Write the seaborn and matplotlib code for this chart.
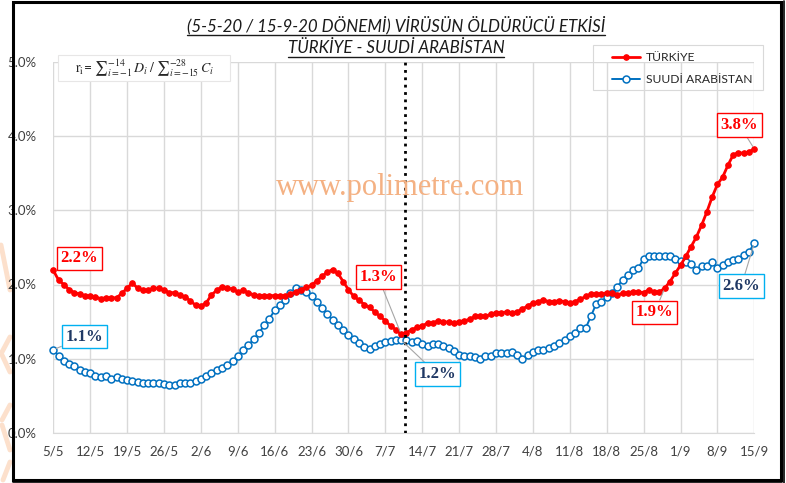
import numpy as np
import pandas as pd
import matplotlib
matplotlib.use('Agg')
import matplotlib.pyplot as plt
import seaborn as sns
from matplotlib.lines import Line2D
from matplotlib.patches import Rectangle

# Veriler (5/5/2020 - 15/9/2020, günlük, %)
tarih_etiketleri = ['5/5', '12/5', '19/5', '26/5', '2/6', '9/6', '16/6', '23/6', '30/6', '7/7',
                    '14/7', '21/7', '28/7', '4/8', '11/8', '18/8', '25/8', '1/9', '8/9', '15/9']

turkiye = [2.19, 2.06, 2.00, 1.93, 1.89, 1.87, 1.85, 1.84, 1.83, 1.81,
           1.82, 1.82, 1.82, 1.88, 1.95, 2.02, 1.95, 1.92, 1.92, 1.95,
           1.95, 1.93, 1.89, 1.89, 1.86, 1.83, 1.78, 1.72, 1.71, 1.75,
           1.86, 1.92, 1.97, 1.95, 1.94, 1.90, 1.92, 1.89, 1.86, 1.85,
           1.85, 1.85, 1.85, 1.85, 1.84, 1.87, 1.90, 1.93, 1.96, 1.99,
           2.05, 2.11, 2.17, 2.20, 2.15, 2.04, 1.93, 1.84, 1.79, 1.73,
           1.69, 1.63, 1.57, 1.51, 1.44, 1.39, 1.33, 1.35, 1.39, 1.42,
           1.44, 1.48, 1.48, 1.51, 1.50, 1.49, 1.48, 1.50, 1.51, 1.53,
           1.57, 1.57, 1.57, 1.60, 1.62, 1.62, 1.63, 1.62, 1.63, 1.67,
           1.71, 1.75, 1.77, 1.79, 1.77, 1.77, 1.78, 1.77, 1.75, 1.77,
           1.80, 1.84, 1.87, 1.87, 1.87, 1.89, 1.88, 1.86, 1.88, 1.89,
           1.90, 1.90, 1.89, 1.93, 1.90, 1.90, 1.95, 2.04, 2.15, 2.26,
           2.38, 2.51, 2.64, 2.80, 2.98, 3.18, 3.35, 3.45, 3.61, 3.75,
           3.78, 3.77, 3.79, 3.83]

suudi = [1.12, 1.04, 0.97, 0.93, 0.90, 0.85, 0.82, 0.80, 0.77, 0.75,
         0.76, 0.73, 0.75, 0.73, 0.71, 0.70, 0.69, 0.67, 0.67, 0.67,
         0.67, 0.66, 0.65, 0.65, 0.67, 0.67, 0.67, 0.70, 0.72, 0.76,
         0.80, 0.84, 0.87, 0.91, 0.97, 1.03, 1.11, 1.18, 1.26, 1.34,
         1.45, 1.54, 1.65, 1.72, 1.79, 1.89, 1.95, 1.93, 1.90, 1.84,
         1.77, 1.68, 1.60, 1.52, 1.45, 1.38, 1.32, 1.26, 1.21, 1.15,
         1.13, 1.17, 1.20, 1.23, 1.24, 1.25, 1.25, 1.25, 1.23, 1.24,
         1.20, 1.17, 1.20, 1.20, 1.17, 1.14, 1.10, 1.05, 1.03, 1.03,
         1.02, 1.00, 1.03, 1.03, 1.07, 1.07, 1.07, 1.09, 1.05, 0.99,
         1.05, 1.09, 1.11, 1.11, 1.14, 1.17, 1.21, 1.25, 1.30, 1.35,
         1.41, 1.41, 1.57, 1.74, 1.77, 1.83, 1.89, 1.97, 2.06, 2.13,
         2.20, 2.22, 2.35, 2.38, 2.38, 2.38, 2.38, 2.38, 2.35, 2.32,
         2.31, 2.28, 2.20, 2.25, 2.25, 2.31, 2.22, 2.26, 2.30, 2.33,
         2.34, 2.40, 2.44, 2.56]

# (gün indeksi, metin, x ofset px, y ofset px, bağlantı çizgisi)
etiket_tr = [(0, '2.2%', 26, 12, False), (66, '1.3%', -23, 57, True),
             (116, '1.9%', -10, -24, True), (133, '3.8%', -15, 24, True)]
etiket_sa = [(0, '1.1%', 31, 13, True), (66, '1.2%', 36, -34, True), (133, '2.6%', -13, -43, True)]

W, H = 786, 483
gun = np.arange(len(turkiye))

sns.set_style('white')
plt.rcParams['font.family'] = ['Lato', 'DejaVu Sans']

fig = plt.figure(figsize=(W / 100, H / 100), dpi=100)
ax = fig.add_axes([53.3 / W, 1 - 432.7 / H, (754.3 - 53.3) / W, (432.7 - 62.2) / H])

sns.lineplot(x=gun, y=turkiye, ax=ax, color='#FF0000', lw=2, marker='o', markersize=4,
             markeredgecolor='#FF0000', markerfacecolor='#FF0000', label='TÜRKİYE', zorder=4,
             clip_on=False)
sns.lineplot(x=gun, y=suudi, ax=ax, color='#0070C0', lw=1.4, marker='o', markersize=5,
             markeredgecolor='#0070C0', markerfacecolor='white', markeredgewidth=1.1,
             label='SUUDİ ARABİSTAN', zorder=3, clip_on=False)

ax.set_xlim(0, len(gun) - 1)
ax.set_ylim(0, 5)
ax.set_xticks(np.arange(0, len(gun), 7))
ax.set_xticklabels(tarih_etiketleri)
ax.set_yticks(np.arange(0, 5.01, 1))
ax.set_yticklabels([f'{v:.1f}%' for v in np.arange(0, 5.01, 1)])
ax.set_xlabel('')
ax.set_ylabel('')
ax.grid(True, color='#D9D9D9', lw=1)
ax.set_axisbelow(True)
for s in ['top', 'right', 'left']:
    ax.spines[s].set_visible(False)
ax.spines['bottom'].set_color('#D9D9D9')
ax.tick_params(axis='x', colors='#D9D9D9', length=4, width=1, labelcolor='#404040', labelsize=9.5, pad=5)
ax.tick_params(axis='y', length=0, labelcolor='#404040', labelsize=9.5, pad=12)

# dikey kesikli çizgi
ax.axvline(66.8, color='black', ls=':', lw=2, zorder=5)

# etiketler
for seri, etiketler, yazi_renk, kenar_renk in [(turkiye, etiket_tr, '#FF0000', '#FF0000'),
                                               (suudi, etiket_sa, '#1F3864', '#00B0F0')]:
    for i, metin, dx, dy, cizgi in etiketler:
        ok = dict(arrowstyle='-', color='#A6A6A6', lw=0.8, shrinkA=0, shrinkB=2) if cizgi else None
        ax.annotate(metin, xy=(gun[i], seri[i]), xytext=(dx, dy), textcoords='offset pixels',
                    ha='center', va='center', fontsize=12, fontweight='bold', color=yazi_renk,
                    family='Liberation Serif',
                    bbox=dict(boxstyle='square,pad=0.22', fc='white', ec=kenar_renk, lw=1),
                    arrowprops=ok, zorder=6)

# filigran
fig.text(400 / W, 1 - 188 / H, 'www.polimetre.com', ha='center', va='center', fontsize=22,
         color='#F4B183', family='Liberation Serif', zorder=0)
for (x0, y0), (x1, y1) in [((1, 245), (10, 290)), ((10, 337), (2, 352)), ((2, 355), (10, 372)),
                           ((10, 405), (2, 420)), ((2, 425), (10, 450)), ((10, 462), (3, 480))]:
    fig.add_artist(Line2D([x0 / W, x1 / W], [1 - y0 / H, 1 - y1 / H], transform=fig.transFigure,
                          color='#FCE0CC', lw=3.5, solid_capstyle='round', zorder=0))

# legend
ax.legend(loc='upper left', bbox_to_anchor=(612 / W, 1 - 52 / H), bbox_transform=fig.transFigure,
          frameon=False, fontsize=8.7, handlelength=2.3, handletextpad=0.5, labelspacing=0.95,
          borderpad=0, borderaxespad=0)
fig.add_artist(Rectangle((593 / W, 1 - 90 / H), 170 / W, 45 / H, transform=fig.transFigure,
                         fill=False, ec='#D9D9D9', lw=0.8))

# formül kutusu
fig.add_artist(Rectangle((58 / W, 1 - 81 / H), 172 / W, 26 / H, transform=fig.transFigure,
                         fc='white', ec='#E7E6E6', lw=0.8, zorder=2))
fig.text(144 / W, 1 - 68 / H,
         r'$\mathrm{r_i}$= ${\sum}_{i=-1}^{-14}\,D_i\;/\;{\sum}_{i=-15}^{-28}\,C_i$',
         ha='center', va='center', fontsize=10, math_fontfamily='stix', color='#262626', zorder=3)

# başlık
basliklar = [('(5-5-20 / 15-9-20 DÖNEMİ) VİRÜSÜN ÖLDÜRÜCÜ ETKİSİ', 25),
             ('TÜRKİYE - SUUDİ ARABİSTAN', 48)]
baslik_yazilari = []
for metin, y in basliklar:
    t = fig.text(396 / W, 1 - y / H, metin, ha='center', va='center', fontsize=12.2,
                 style='italic', color='#1A1A1A')
    baslik_yazilari.append(t)

fig.canvas.draw()
renderer = fig.canvas.get_renderer()
inv = fig.transFigure.inverted()
for t in baslik_yazilari:
    bb = t.get_window_extent(renderer)
    (x0, y0), (x1, _) = inv.transform([(bb.x0, bb.y0), (bb.x1, bb.y0)])
    fig.add_artist(Line2D([x0, x1], [y0 - 1 / H, y0 - 1 / H], transform=fig.transFigure,
                          color='#1A1A1A', lw=1))

# çerçeve
fig.add_artist(Rectangle((12.5 / W, 1 - 480 / H), 768 / W, 478 / H, transform=fig.transFigure,
                         fill=False, ec='black', lw=2.2))
fig.add_artist(Line2D([12.5 / W, 782 / W], [1 - 482.5 / H, 1 - 482.5 / H], transform=fig.transFigure,
                      color='black', lw=1.2))
fig.add_artist(Line2D([783.5 / W, 783.5 / W], [1 - 482.5 / H, 1 - 1 / H], transform=fig.transFigure,
                      color='black', lw=1.2))

fig.savefig('out.png', dpi=100)
